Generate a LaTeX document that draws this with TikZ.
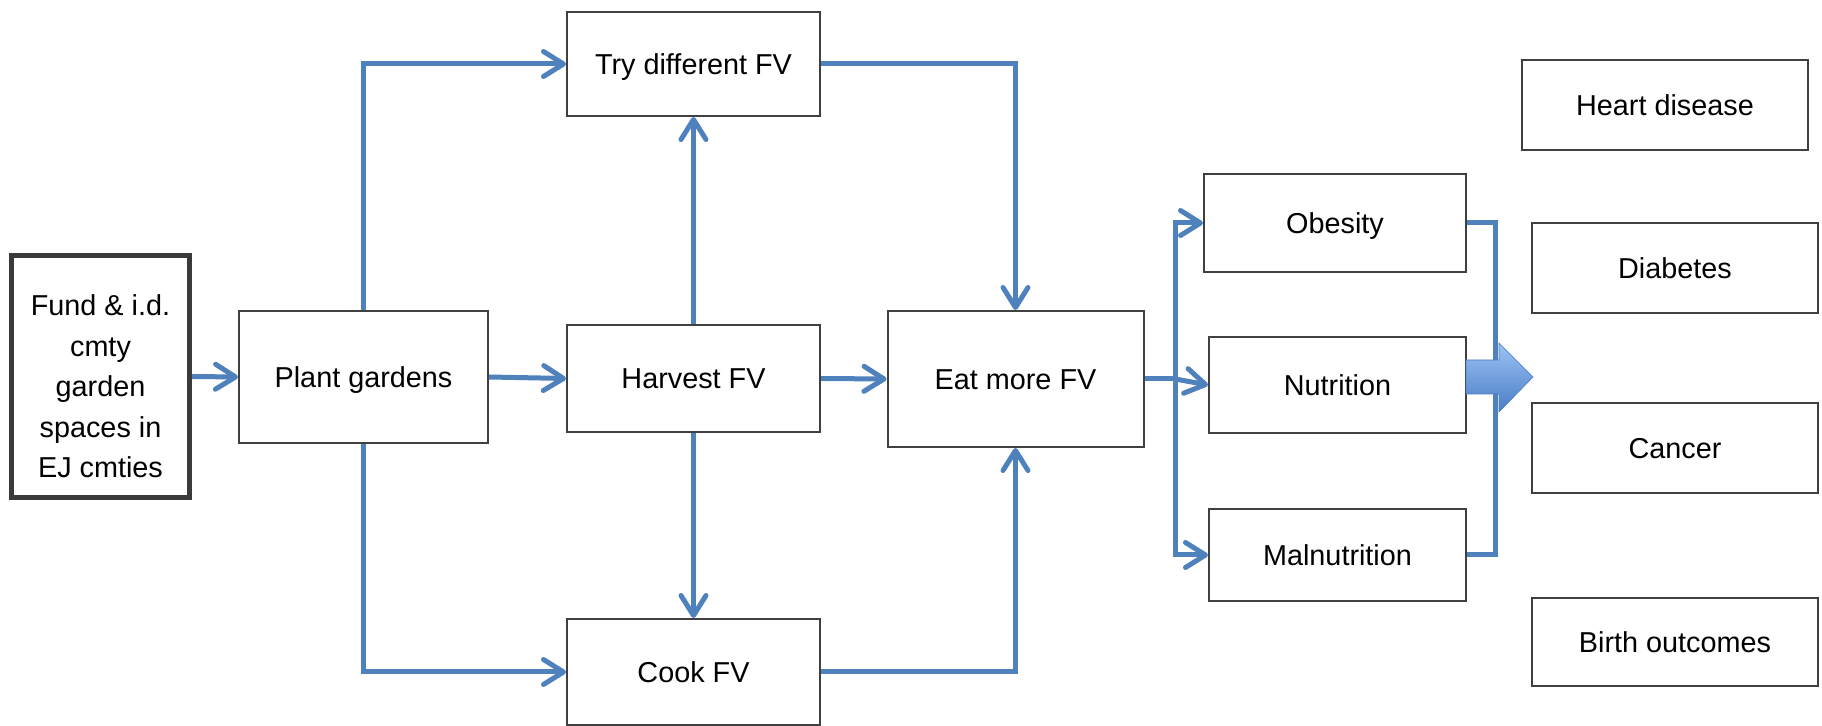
\documentclass[tikz,border=0pt]{standalone}
\usepackage{fontspec}
\setmainfont{Liberation Sans}
\usetikzlibrary{arrows.meta}
\definecolor{flowblue}{HTML}{4F81BD}
\definecolor{boxgray}{HTML}{404040}
\definecolor{arrowlight}{HTML}{9CC2F5}
\definecolor{arrowdark}{HTML}{4A7DC4}
\begin{document}
\begin{tikzpicture}[x=0.5pt,y=-0.5pt,
		box/.style={draw=boxgray,line width=1pt,fill=white,inner sep=0pt,align=center,text height=10.3pt,text depth=0pt,font=\fontsize{14.4}{20.3}\selectfont},
		link/.style={draw=flowblue,line width=2.5pt},
		flow/.style={link,-{Straight Barb[length=10pt,width=12.5pt,round]}}]
		\useasboundingbox (0,0) rectangle (1822,726);
		\node[draw=boxgray!90!black,line width=2.7pt,fill=white,minimum width=88.8pt,minimum height=120.8pt,
			label={[align=center,yshift=-5pt,font=\fontsize{14.4}{20.3}\selectfont]center:Fund \& i.d.\\cmty\\garden\\spaces in\\EJ cmties}](F) at (100.5,376.5) {};
		\node[box,minimum width=124.5pt,minimum height=66pt](P) at (363.5,377) {Plant gardens};
		\node[box,minimum width=126.5pt,minimum height=52pt](T) at (693.5,64) {Try different FV};
		\node[box,minimum width=126.5pt,minimum height=53.5pt](H) at (693.5,378.5) {Harvest FV};
		\node[box,minimum width=126.5pt,minimum height=53pt](C) at (693.5,672) {Cook FV};
		\node[box,minimum width=128pt,minimum height=68pt](E) at (1015.5,379) {Eat more FV};
		\node[box,minimum width=131pt,minimum height=49pt](O) at (1335,223) {Obesity};
		\node[box,minimum width=128.5pt,minimum height=48pt](N) at (1337.5,385) {Nutrition};
		\node[box,minimum width=128.5pt,minimum height=46pt](M) at (1337.5,555) {Malnutrition};
		\node[box,minimum width=143pt,minimum height=45pt](HD) at (1665,105) {Heart disease};
		\node[box,minimum width=143pt,minimum height=45pt](D) at (1675,268) {Diabetes};
		\node[box,minimum width=143pt,minimum height=45pt](CA) at (1675,448) {Cancer};
		\node[box,minimum width=143pt,minimum height=44pt](B) at (1675,642) {Birth outcomes};
		\draw[flow] (F.east) -- (P.west);
		\draw[flow] (P.east) -- (H.west);
		\draw[flow] (H.east) -- (E.west);
		\draw[flow] (P.north) |- (T.west);
		\draw[flow] (P.south) |- (C.west);
		\draw[flow] (H.north) -- (T.south);
		\draw[flow] (H.south) -- (C.north);
		\draw[flow] (T.east) -| (E.north);
		\draw[flow] (C.east) -| (E.south);
		\coordinate (S) at (1175,379);
		\draw[link] (E.east) -- (S);
		\draw[flow] (S) |- (O.west);
		\draw[flow] (S) -- (N.west);
		\draw[flow] (S) |- (M.west);
		\coordinate (R) at (1495,223);
		\draw[link] (O.east) -| (R |- M.east) -- (M.east);
		\shade[top color=arrowlight,bottom color=arrowdark,draw=arrowdark,line width=0.3pt] (1466,360) -- (1499,360) -- (1499,343) -- (1533,377) -- (1499,412) -- (1499,394) -- (1466,394) -- cycle;
\end{tikzpicture}
\end{document}
